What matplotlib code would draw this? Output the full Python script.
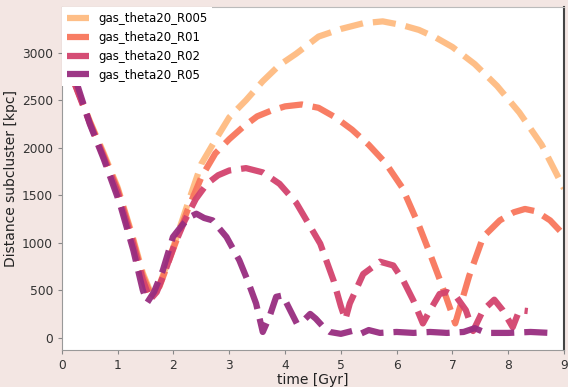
import numpy as np
import matplotlib.pyplot as plt

# distance of the subcluster vs time
t_r005 = [0, 0.25, 0.5, 0.75, 1.0, 1.25, 1.45, 1.6, 1.75, 2.0, 2.25, 2.5, 2.75, 3.0, 3.3,
          3.6, 3.9, 4.2, 4.6, 5.0, 5.4, 5.75, 6.1, 6.4, 6.7, 7.0, 7.4, 7.8, 8.2, 8.6, 9.0]
d_r005 = [3000, 2650, 2280, 1940, 1580, 1100, 680, 460, 560, 960, 1400, 1830, 2080, 2320, 2500,
          2700, 2870, 2990, 3170, 3250, 3310, 3330, 3290, 3240, 3160, 3060, 2880, 2650, 2370, 2030, 1570]

t_r01 = [0, 0.25, 0.5, 0.75, 1.0, 1.25, 1.45, 1.6, 1.75, 2.0, 2.25, 2.5, 2.75, 3.0, 3.25,
         3.5, 3.75, 4.0, 4.3, 4.6, 4.9, 5.2, 5.5, 5.8, 6.1, 6.4, 6.6, 6.8, 6.95, 7.05,
         7.15, 7.3, 7.55, 7.85, 8.1, 8.3, 8.5, 8.75, 9.0]
d_r01 = [3000, 2650, 2270, 1920, 1560, 1080, 650, 440, 540, 940, 1340, 1690, 1940, 2090, 2220,
         2330, 2390, 2435, 2455, 2420, 2320, 2190, 2030, 1840, 1580, 1180, 880, 570, 320, 150,
         350, 650, 1060, 1235, 1320, 1355, 1330, 1235, 1080]

t_r02 = [0, 0.25, 0.5, 0.75, 1.0, 1.25, 1.45, 1.58, 1.7, 1.85, 2.0, 2.2, 2.4, 2.6, 2.8,
         3.0, 3.3, 3.6, 3.9, 4.2, 4.4, 4.63, 4.87, 5.0, 5.08, 5.16, 5.4, 5.7, 5.94, 6.12,
         6.3, 6.47, 6.6, 6.77, 6.9, 7.07, 7.24, 7.37, 7.55, 7.75, 7.9, 8.08, 8.2, 8.35]
d_r02 = [3000, 2640, 2260, 1900, 1530, 1040, 610, 400, 480, 700, 950, 1230, 1460, 1620, 1710,
         1760, 1785, 1740, 1620, 1420, 1220, 990, 600, 330, 190, 360, 670, 800, 760, 600,
         390, 150, 290, 460, 480, 430, 290, 70, 290, 400, 290, 110, 290, 280]

t_r05 = [0, 0.2, 0.5, 0.75, 1.04, 1.28, 1.45, 1.53, 1.65, 1.81, 1.99, 2.15, 2.29, 2.41, 2.55,
         2.7, 2.95, 3.18, 3.33, 3.48, 3.6, 3.72, 3.84, 3.96, 4.03, 4.21, 4.33, 4.45, 4.55, 4.69,
         4.8, 5.0, 5.2, 5.35, 5.5, 5.7, 6.0, 6.3, 6.6, 6.9, 7.2, 7.4, 7.6, 8.0, 8.4, 8.75]
d_r05 = [3000, 2800, 2250, 1880, 1410, 920, 500, 370, 480, 710, 1060, 1180, 1270, 1305, 1260,
         1235, 1060, 815, 600, 360, 60, 220, 430, 445, 360, 150, 180, 250, 200, 110,
         60, 40, 70, 40, 80, 50, 60, 50, 60, 50, 60, 100, 50, 50, 60, 50]

labels = ['gas_theta20_R005', 'gas_theta20_R01', 'gas_theta20_R02', 'gas_theta20_R05']
colors = ['#febb81', '#f8765c', '#d3436e', '#982d80']

fig = plt.figure(figsize=(5.68, 3.87), dpi=100)
fig.patch.set_facecolor('#f3e6e3')
ax = fig.add_axes([0.109, 0.0956, 0.884, 0.886])
ax.set_facecolor('white')

series = [(t_r005, d_r005), (t_r01, d_r01), (t_r02, d_r02), (t_r05, d_r05)]
for (t, d), lab, col in zip(series, labels, colors):
    ax.plot(t, d, '--', color=col, lw=4.5, alpha=0.95, label=lab)

ax.set_xlim(0, 9)
ax.set_ylim(-130, 3480)
ax.set_xticks(range(10))
ax.set_yticks([0, 500, 1000, 1500, 2000, 2500, 3000])
ax.tick_params(labelsize=8.8, colors='#333333', length=3)
ax.tick_params(axis='both', color='#888888')
ax.set_xlabel('time [Gyr]', fontsize=10, color='#222222', labelpad=1)
ax.set_ylabel('Distance subcluster [kpc]', fontsize=10, color='#222222', labelpad=3)

ax.spines['left'].set_color('#999999')
ax.spines['bottom'].set_color('#999999')
ax.spines['top'].set_color('#bbbbbb')
ax.spines['right'].set_color('#444444')
ax.spines['right'].set_linewidth(1.5)

leg = ax.legend(loc='upper left', fontsize=8.5, borderaxespad=0, framealpha=1,
                edgecolor='none', fancybox=False, handlelength=1.9)

fig.savefig('out.png', dpi=100, facecolor=fig.get_facecolor())
